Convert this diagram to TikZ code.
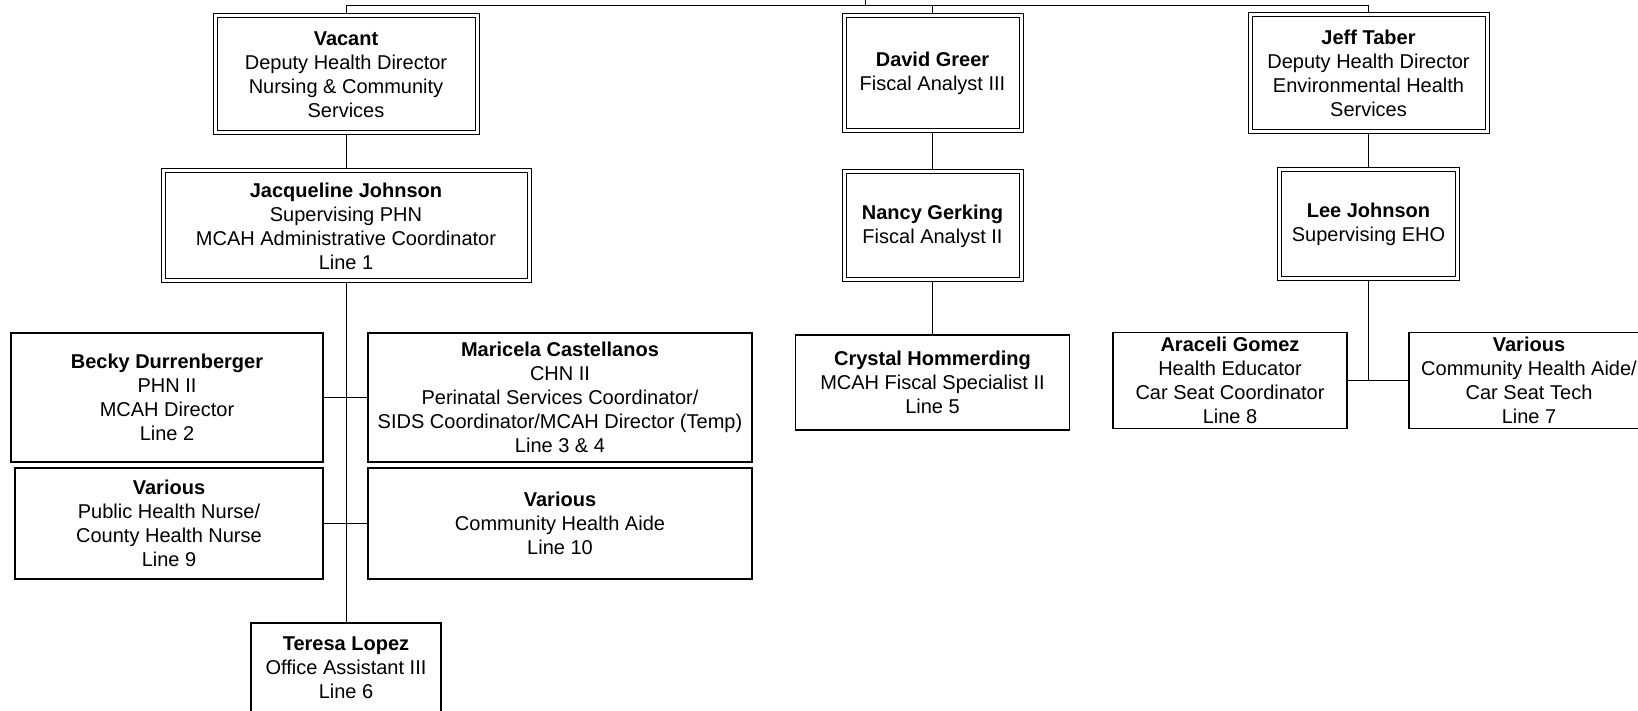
\documentclass[tikz,border=0pt]{standalone}
\usepackage{fontspec}
\setmainfont{Liberation Sans}
\usetikzlibrary{backgrounds}
\begin{document}
\begin{tikzpicture}[x=0.5pt,y=-0.5pt,
    font=\fontsize{10}{12}\selectfont,
    box/.style 2 args={draw,line width=0.8pt,align=center,inner sep=0pt,
      minimum width=#1*0.5pt,minimum height=#2*0.5pt},
    dbox/.style 2 args={box={#1}{#2},line width=0.5pt,double,double distance=1.5pt}]
      \useasboundingbox (0,0) rectangle (1638,711);
      \clip (0,0) rectangle (1638,711);
      \draw
        (346,74.5) node[dbox={262}{117}] (vacant){\textbf{Vacant}\\Deputy Health Director\\Nursing \& Community\\Services}
        (346,226) node[dbox={366}{110}] (jjohnson){\textbf{Jacqueline Johnson}\\Supervising PHN\\MCAH Administrative Coordinator\\Line 1}
        (932.5,73.5) node[dbox={177}{115}] (greer){\textbf{David Greer}\\Fiscal Analyst III}
        (932.5,226) node[dbox={177}{108}] (gerking){\textbf{Nancy Gerking}\\Fiscal Analyst II}
        (932.5,382.5) node[box={274}{95}] (hommerding){\textbf{Crystal Hommerding}\\MCAH Fiscal Specialist II\\Line 5}
        (1368.5,73.5) node[dbox={237}{117}] (taber){\textbf{Jeff Taber}\\Deputy Health Director\\Environmental Health\\Services}
        (1368.5,224.5) node[dbox={178}{109}] (ljohnson){\textbf{Lee Johnson}\\Supervising EHO}
        (1230,380.5) node[box={234}{96}] (gomez){\textbf{Araceli Gomez}\\Health Educator\\Car Seat Coordinator\\Line 8}
        (1529,380.5) node[box={240}{96}] (cstech){\textbf{Various}\\Community Health Aide/\\Car Seat Tech\\Line 7}
        (167,397.5) node[box={312}{129}] (durrenberger){\textbf{Becky Durrenberger}\\PHN II\\MCAH Director\\Line 2}
        (560,397.5) node[box={384}{129}] (castellanos){\textbf{Maricela Castellanos}\\CHN II\\Perinatal Services Coordinator/\\SIDS Coordinator/MCAH Director (Temp)\\Line 3 \& 4}
        (169,523.5) node[box={308}{111}] (nurses){\textbf{Various}\\Public Health Nurse/\\County Health Nurse\\Line 9}
        (560,523.5) node[box={384}{111}] (aides){\textbf{Various}\\Community Health Aide\\Line 10}
        (346,668) node[box={190}{90}] (lopez){\textbf{Teresa Lopez}\\Office Assistant III\\Line 6};
      \coordinate (bar) at (865,5);
      \coordinate (director) at (865,-10);
      \begin{scope}[on background layer,line width=0.6pt]
        \draw (director) -- (bar);
        \draw (vacant.north) -- (vacant.north |- bar) -- (taber.north |- bar) -- (taber.north);
        \draw (greer.north) -- (greer.north |- bar);
        \draw (vacant) -- (jjohnson);
        \draw (jjohnson) -- (lopez);
        \draw (durrenberger.east) -- (castellanos.west);
        \draw (nurses.east) -- (aides.west);
        \draw (greer) -- (gerking);
        \draw (gerking) -- (hommerding);
        \draw (taber) -- (ljohnson);
        \draw (ljohnson.south) -- (ljohnson.south |- gomez.east);
        \draw (gomez.east) -- (cstech.west);
      \end{scope}
    \end{tikzpicture}
\end{document}
